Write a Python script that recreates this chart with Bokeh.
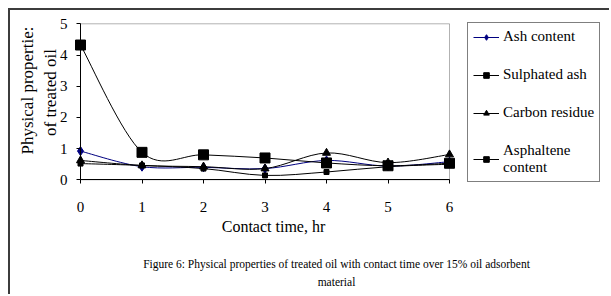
from bokeh.plotting import figure
from bokeh.models import Range1d, FixedTicker, Label, Legend, LegendItem, ColumnDataSource, BoxAnnotation
from bokeh.embed import file_html
from bokeh.resources import INLINE
from math import pi

# ---- data ----
hours = [0, 1, 2, 3, 4, 5, 6]
ash_content = [0.92, 0.42, 0.40, 0.36, 0.62, 0.44, 0.58]
sulphated_ash = [0.52, 0.46, 0.36, 0.14, 0.25, 0.42, 0.50]
carbon_residue = [0.62, 0.46, 0.42, 0.36, 0.86, 0.55, 0.81]
asphaltene = [4.32, 0.88, 0.80, 0.70, 0.54, 0.45, 0.53]
series_names = ["Ash content", "Sulphated ash", "Carbon residue", "Asphaltene\ncontent"]
x_ticks = [0, 1, 2, 3, 4, 5, 6]
y_ticks = [0, 1, 2, 3, 4, 5]
x_title = "Contact time, hr"
y_title_lines = ["Physical propertie:", "of treated oil"]
caption_lines = ["Figure 6: Physical properties of treated oil with contact time over 15% oil adsorbent",
                 "material"]

SERIF = "Liberation Serif"

# ---- layout (pixels inside the canvas) ----
W, H = 601, 286
PLOT_L, PLOT_R = 70, 439       # x = 0 and x = 6
PLOT_T, PLOT_B = 13.3, 169.3   # y = 5 and y = 0
X0, X1 = x_ticks[0], x_ticks[-1]
Y0, Y1 = y_ticks[0], y_ticks[-1]
sx = (PLOT_R - PLOT_L) / (X1 - X0)
sy = (PLOT_B - PLOT_T) / (Y1 - Y0)
x_range = Range1d(X0 - PLOT_L / sx, X0 + (W - PLOT_L) / sx)
y_range = Range1d(Y0 - (H - PLOT_B) / sy, Y0 + PLOT_B / sy)

p = figure(width=W, height=H, x_range=x_range, y_range=y_range,
           output_backend="svg", toolbar_location=None,
           min_border_left=0, min_border_right=0, min_border_top=0, min_border_bottom=0)
p.styles = {"margin-left": "8px", "margin-top": "8px",
            "border-left": "2px solid #3c3c3c", "border-top": "2px solid #3c3c3c"}
p.grid.visible = False
p.outline_line_color = None
p.background_fill_color = "white"
p.border_fill_color = "white"

# plot-area box
p.add_layout(BoxAnnotation(left=X0, right=X1, bottom=Y0, top=Y1, fill_alpha=0,
                           line_color="black", line_width=1, level="underlay"))

for ax in (p.xaxis[0], p.yaxis[0]):
    ax.axis_line_color = "black"
    ax.major_tick_line_color = "black"
    ax.minor_tick_line_color = None
    ax.major_tick_in = 0
    ax.major_tick_out = 4
    ax.major_label_text_font = SERIF
    ax.major_label_text_font_size = "15px"
    ax.major_label_text_color = "black"
    ax.fixed_location = 0
p.xaxis.bounds = (X0, X1)
p.yaxis.bounds = (Y0, Y1)
p.xaxis.ticker = FixedTicker(ticks=x_ticks)
p.yaxis.ticker = FixedTicker(ticks=y_ticks)
p.xaxis.major_label_standoff = 18
p.yaxis.major_label_standoff = 9


def smooth_segments(xs, ys):
    """Bezier control points (Catmull-Rom style) between consecutive data points."""
    n = len(xs)
    d = dict(x0=[], y0=[], x1=[], y1=[], cx0=[], cy0=[], cx1=[], cy1=[])
    for i in range(n - 1):
        i0 = max(i - 1, 0)
        i3 = min(i + 2, n - 1)
        d["x0"].append(xs[i]); d["y0"].append(ys[i])
        d["x1"].append(xs[i + 1]); d["y1"].append(ys[i + 1])
        d["cx0"].append(xs[i] + (xs[i + 1] - xs[i0]) / 6)
        d["cy0"].append(ys[i] + (ys[i + 1] - ys[i0]) / 6)
        d["cx1"].append(xs[i + 1] - (xs[i3] - xs[i]) / 6)
        d["cy1"].append(ys[i + 1] - (ys[i3] - ys[i]) / 6)
    return ColumnDataSource(d)


styles = [
    (ash_content, "#000080", "diamond", 9),
    (sulphated_ash, "black", "square", 5),
    (carbon_residue, "black", "triangle", 8),
    (asphaltene, "black", "square", 10),
]

items = []
for (vals, col, mk, sz), name in zip(styles, series_names):
    src = smooth_segments(hours, vals)
    curve = p.bezier(x0="x0", y0="y0", x1="x1", y1="y1", cx0="cx0", cy0="cy0", cx1="cx1", cy1="cy1",
                     source=src, line_color=col, line_width=1)
    sc = p.scatter(hours, vals, marker=mk, size=sz, fill_color=col, line_color=col)
    items.append(LegendItem(label=name, renderers=[curve, sc], index=0))

legend = Legend(items=items, location=(457, H - 172), border_line_color="black", border_line_width=1,
                background_fill_color="white", background_fill_alpha=1.0,
                label_text_font=SERIF, label_text_font_size="15px", label_text_color="black",
                glyph_width=26, glyph_height=14, label_height=14, spacing=21, padding=5,
                label_standoff=4, margin=0)
p.add_layout(legend)


def label(x, y, text, size, angle=0):
    p.add_layout(Label(x=x, y=H - y, x_units="screen", y_units="screen", text=text, angle=angle,
                       text_align="center", text_baseline="middle", text_font=SERIF,
                       text_font_size=size, text_color="black"))


label(17, 80, y_title_lines[0], "17px", pi / 2)
label(40, 82, y_title_lines[1], "17px", pi / 2)
label(263, 216, x_title, "16px")
label(326, 253, caption_lines[0], "11.5px")
label(326, 271, caption_lines[1], "11.5px")

open("out.html", "w").write(file_html(p, INLINE))
